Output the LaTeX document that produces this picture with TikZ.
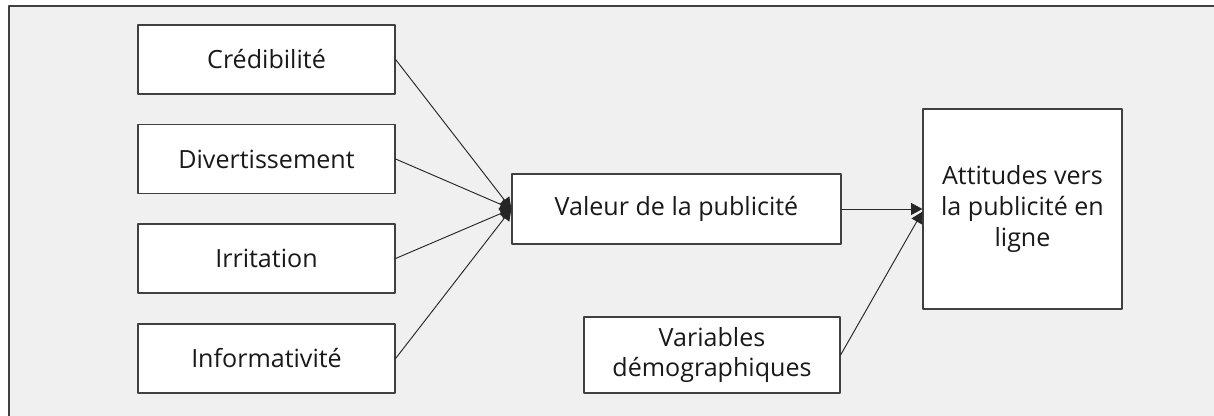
\documentclass[tikz,border=0pt]{standalone}
\usepackage{fontspec}
\setmainfont{Open Sans}
\usetikzlibrary{arrows.meta}

\definecolor{fundo}{HTML}{F0F0F0}
\definecolor{borda}{HTML}{404040}

\tikzset{
  caixa/.style={draw=borda,fill=white,line width=0.9pt,align=center,
    inner sep=0pt,text=black!90,
    font=\fontsize{18.8}{23}\selectfont},
  seta/.style={-{Triangle[length=8.5pt,width=9pt]},line width=0.7pt,black!85}
}

\begin{document}
\begin{tikzpicture}[x=0.75pt,y=-0.75pt,line cap=round,line join=round]

%---------------------------
% fundo e moldura
%---------------------------
\useasboundingbox (0,0) rectangle (1214,416);
\fill[fundo] (9,6) rectangle (1214,416);
\draw[borda,line width=1.5pt] (9,416) -- (9,6) -- (1214,6);

%---------------------------
% dimensões (em pixels)
%---------------------------
\def\lw{257}   % largura das caixas da esquerda
\def\lh{69}    % altura das caixas da esquerda

%---------------------------
% antecedentes
%---------------------------
\node[caixa,minimum width=\lw*0.75pt,minimum height=\lh*0.75pt] (cred)   at (266.5,59.5)  {Crédibilité};
\node[caixa,minimum width=\lw*0.75pt,minimum height=\lh*0.75pt] (divert) at (266.5,159)   {Divertissement};
\node[caixa,minimum width=\lw*0.75pt,minimum height=\lh*0.75pt] (irrit)  at (266.5,258.5) {Irritation};
\node[caixa,minimum width=\lw*0.75pt,minimum height=\lh*0.75pt] (inform) at (266.5,358.5) {Informativité};

%---------------------------
% valor e atitudes
%---------------------------
\node[caixa,minimum width=329*0.75pt,minimum height=70*0.75pt] (valeur) at (676.5,209) {Valeur de la publicité};
\node[caixa,minimum width=199*0.75pt,minimum height=200*0.75pt] (attit) at (1022.5,209)
  {Attitudes vers\\la publicité en\\ligne};
\node[caixa,minimum width=256*0.75pt,minimum height=76*0.75pt] (demog) at (712,355)
  {Variables\\démographiques};

%---------------------------
% setas
%---------------------------
\foreach \n in {cred,divert,irrit,inform}
  \draw[seta] (\n.east) -- (valeur.west);
\draw[seta] (valeur.east) -- (attit.west);
\draw[seta] (demog.east) -- ([yshift=-2pt]attit.west);

\end{tikzpicture}
\end{document}
